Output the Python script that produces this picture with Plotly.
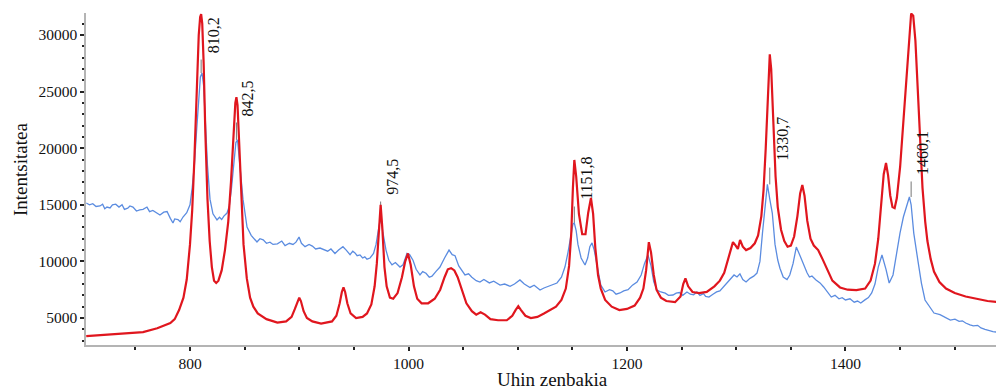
import plotly.graph_objects as go

# Red spectrum (wavenumber, intensity)
red_x = [705, 720, 740, 757, 770, 782, 786, 790, 794, 797, 800, 802, 804, 806, 808, 809.3, 810.2,
         811.2, 812.5, 814, 816, 818, 820, 822, 824, 826, 829, 832, 835, 837.5, 840, 841.5, 842.5,
         843.5, 845, 847, 849, 852, 855, 858, 862, 870, 880, 888, 893, 896, 898.5, 900, 901.5, 904,
         907, 912, 920, 930, 934, 937, 939, 940.5, 942, 944, 947, 952, 958, 962, 966, 969, 971, 973,
         974.5, 976, 978, 980, 983, 986, 990, 994, 997, 999.5, 1002, 1005, 1008, 1012, 1018, 1024,
         1029, 1033, 1036, 1039, 1042, 1045, 1049, 1053, 1058, 1062, 1066, 1070, 1075, 1082, 1090,
         1095, 1098, 1100.5, 1103, 1107, 1112, 1118, 1124, 1130, 1135, 1140, 1144, 1147, 1149, 1150.5,
         1151.8, 1153.5, 1156, 1159, 1162, 1164.5, 1167, 1169, 1171, 1173.5, 1176, 1180, 1186, 1193,
         1200, 1207, 1212, 1215, 1217.5, 1220, 1222, 1224.5, 1227, 1231, 1236, 1244, 1249, 1251.5,
         1253.5, 1256, 1260, 1266, 1273, 1280, 1285, 1289, 1292.5, 1295, 1297, 1299.5, 1301.5,
         1303.5, 1306, 1309, 1313, 1317, 1320, 1323, 1325, 1327, 1329, 1330.7, 1332, 1334, 1336,
         1338, 1341, 1344, 1347, 1350, 1353, 1356, 1358.5, 1360.5, 1362.5, 1365, 1368, 1371, 1375,
         1379, 1383, 1388, 1395, 1402, 1410, 1418, 1423, 1427, 1430, 1432.5, 1435, 1437.1, 1439,
         1441, 1443, 1445, 1447, 1450, 1453, 1456, 1458.5, 1460.1, 1462, 1464, 1466, 1468.2, 1470.5,
         1473, 1475, 1478, 1481, 1486, 1492, 1500, 1510, 1520, 1530, 1545]
red_y = [3400, 3500, 3650, 3760, 4100, 4560, 4900, 5700, 6800, 8400, 11500, 14500, 19000, 25000,
         30000, 31600, 31850, 31000, 27500, 21500, 15500, 11800, 9500, 8300, 8100, 8300, 9200, 11000,
         13500, 17000, 21500, 24000, 24500, 23800, 20500, 15500, 11500, 8500, 6800, 6000, 5400,
         4900, 4600, 4700, 5100, 5800, 6500, 6800, 6500, 5600, 5000, 4700, 4500, 4700, 5200, 6300,
         7300, 7700, 7300, 6300, 5400, 5000, 5100, 5400, 6200, 7800, 9800, 13000, 15000, 13000, 9500,
         7800, 6800, 6700, 7200, 8600, 10000, 10700, 9700, 7800, 6700, 6300, 6300, 6700, 7500, 8600,
         9300, 9400, 9200, 8600, 7400, 6300, 5600, 5300, 5500, 5300, 4900, 4800, 4800, 5200, 5700,
         6050, 5700, 5200, 5000, 5100, 5400, 5700, 6000, 6600, 7600, 9600, 12500, 16500, 18960,
         17500, 14200, 12400, 12400, 14300, 15600, 14200, 11200, 8800, 7600, 6600, 6000, 5700, 5800,
         6100, 6800, 7600, 9200, 11700, 10800, 8800, 7500, 6800, 6500, 6400, 6900, 8000, 8500, 7800,
         7300, 7200, 7300, 7800, 8300, 9000, 10200, 11200, 11700, 11400, 11100, 11900, 11300,
         11000, 11180, 11600, 12300, 14000, 16300, 20000, 25500, 28300, 27000, 22500, 17500, 14800,
         12800, 11800, 11300, 11400, 12200, 14000, 16000, 16750, 15800, 13600, 12000, 11400, 11000,
         10200, 9300, 8300, 7700, 7500, 7470, 7600, 8300, 9800, 12000, 15000, 17700, 18690, 17600,
         15800, 14800, 14700, 15600, 18340, 22500, 26800, 30300, 31900, 31700, 29500, 25500, 21000,
         16500, 13500, 11800, 10200, 9100, 8180, 7600, 7200, 6900, 6700, 6500, 6350]

# Blue spectrum (wavenumber, intensity)
blue_x = [705, 708, 711, 714, 717.6, 720, 722, 724, 726.8, 729, 732, 735, 737.8, 740, 743, 745,
          747.8, 751, 754, 757, 760.6, 763, 766, 769, 772.5, 776, 779, 782, 784.4, 786, 789, 791,
          793.6, 797, 800, 802, 804, 806, 808, 809.5, 811, 812.5, 814, 816, 818.3, 821, 824.7, 827,
          829, 831, 833.9, 836, 838, 840.3, 842, 843.5, 845.8, 848.5, 852.2, 856, 861.3, 864, 867,
          870, 873.2, 876, 880, 884, 887, 891, 894.3, 897, 899.8, 902, 905.3, 909, 912, 915, 919, 923,
          926, 929, 932.7, 936, 940, 943, 946.5, 949, 951, 953, 955.6, 958, 960, 962, 964.8, 968,
          970.3, 972.5, 974.5, 976.5, 979.4, 982, 984.9, 988, 992.2, 995, 998.6, 1001, 1004.1, 1007,
          1010.5, 1013, 1016, 1019, 1021.5, 1025, 1028.8, 1033, 1037.1, 1040, 1042.6, 1046, 1051.7,
          1055, 1058, 1062, 1065.4, 1069, 1074, 1078, 1083.8, 1088, 1093, 1097, 1102, 1106, 1111.2,
          1115, 1120.4, 1124, 1128, 1132, 1135.9, 1140, 1143.2, 1146, 1148.5, 1150.5, 1151.8, 1153.5,
          1155.1, 1158, 1161.6, 1164, 1166, 1168, 1170, 1173.5, 1176, 1179.9, 1184, 1187, 1190,
          1193.6, 1197, 1201, 1205, 1209.2, 1213, 1216, 1219.2, 1222, 1224.5, 1227.5, 1231, 1235,
          1238, 1242.1, 1245, 1248, 1251, 1254.9, 1258, 1261, 1264, 1266.8, 1270, 1272, 1275,
          1278.7, 1282, 1285, 1288, 1291.5, 1295, 1298, 1300.7, 1303.4, 1306, 1309, 1312.6, 1316,
          1319, 1321.7, 1324, 1326.3, 1328.5, 1330.7, 1333, 1335.5, 1338, 1340, 1343, 1346.5, 1349,
          1352, 1355, 1358.4, 1361, 1364.8, 1367, 1369.3, 1373, 1376.7, 1380, 1383.1, 1387, 1390.4,
          1394, 1397, 1400, 1404.1, 1408, 1411, 1414, 1417.8, 1421, 1424, 1427, 1430, 1433.4, 1437.1,
          1440, 1443.5, 1446.5, 1449.9, 1453, 1456.3, 1458.5, 1460.1, 1462.5, 1466.4, 1469.5, 1472.8,
          1477.3, 1481, 1486.5, 1490, 1493, 1496, 1500.2, 1504, 1507, 1510, 1514, 1517, 1521, 1524,
          1527.7, 1531, 1535, 1539, 1542, 1545]
blue_y = [15160, 15000, 15100, 14850, 14900, 15050, 14650, 14800, 14720, 15000, 15050, 14800, 15000,
          14600, 14700, 14900, 14800, 14450, 14550, 14600, 14800, 14400, 14500, 14300, 14100, 14350,
          14400, 13800, 13390, 13750, 13700, 13500, 13920, 14300, 15000, 16500, 18500, 21500, 24500,
          26300, 26640, 25500, 22500, 18500, 15500, 14200, 13660, 13900, 13700, 14000, 14270, 14900,
          16500, 18800, 20500, 20730, 18500, 15500, 13040, 12300, 11710, 12000, 11900, 11600, 11700,
          11500, 11550, 11800, 11400, 11600, 11500, 11700, 12150, 11600, 11300, 11500, 11350, 11100,
          11180, 11000, 10900, 11100, 10700, 11000, 11300, 11000, 10600, 10900, 10750, 10500, 10570,
          10300, 10400, 10200, 10300, 10700, 11500, 12800, 13900, 12600, 11000, 10100, 9700, 9900,
          9500, 9700, 10700, 10600, 10100, 9300, 8800, 9100, 8950, 8600, 8700, 9100, 9500, 10300,
          11000, 10600, 10500, 9600, 8800, 8900, 8600, 8300, 8180, 8400, 8100, 8250, 7910, 8000,
          7800, 8000, 8360, 8000, 7700, 7900, 7470, 7650, 7800, 7900, 8090, 8600, 9500, 10800, 12400,
          13300, 13390, 12700, 11500, 10300, 9680, 10300, 11300, 11630, 11000, 8970, 7900, 7300,
          7500, 7400, 7100, 7210, 7400, 7500, 7900, 8180, 8800, 9800, 10570, 9600, 8200, 7470, 7300,
          7200, 7000, 7030, 7200, 7250, 7000, 7300, 7100, 7050, 7300, 7000, 7150, 6900, 6850, 7100,
          7300, 7400, 7740, 8100, 8500, 8800, 8620, 8900, 8400, 8180, 8500, 8700, 8970, 10000, 12500,
          15000, 16800, 15500, 14270, 11500, 10120, 9400, 8620, 8400, 8800, 9800, 11270, 10500, 9860,
          9000, 8620, 8700, 8360, 8100, 7740, 7300, 6850, 7000, 6700, 6800, 6590, 6700, 6400, 6500,
          6330, 6600, 6800, 7210, 8000, 9500, 10570, 9300, 8090, 8800, 10740, 12500, 13920, 15000,
          15690, 15000, 12500, 10000, 8090, 6590, 6000, 5440, 5300, 5100, 5000, 4820, 4900, 4700,
          4750, 4560, 4400, 4300, 4350, 4120, 4000, 3900, 3800, 3750, 3700]

# Peak labels: peak position, label text, label base (intensity), blue peak intensity
peak_x = [810.2, 842.5, 974.5, 1151.8, 1330.7, 1460.1]
peak_text = ["810,2", "842,5", "974,5", "1151,8", "1330,7", "1460,1"]
label_base = [28230, 22670, 15690, 15250, 18690, 17460]
stem_low = [26640, 20730, 13900, 13390, 16800, 15690]

FONT = "Liberation Serif"

fig = go.Figure()
fig.add_trace(go.Scatter(x=blue_x, y=blue_y, mode="lines",
                         line=dict(color="#5b8ce0", width=1.3), showlegend=False))
fig.add_trace(go.Scatter(x=red_x, y=red_y, mode="lines",
                         line=dict(color="#e0161e", width=2.2), showlegend=False))

for px, txt, lb, sl in zip(peak_x, peak_text, label_base, stem_low):
    fig.add_shape(type="line", x0=px, x1=px, y0=sl, y1=lb - 400,
                  line=dict(color="#777777", width=1), layer="below")
    fig.add_annotation(x=px, y=lb, text=txt, textangle=-90, showarrow=False,
                       xanchor="center", yanchor="bottom", xshift=12,
                       font=dict(family=FONT, size=16, color="#111111"))

axis_common = dict(
    showline=True, linecolor="#b4b4b4", linewidth=1.5, mirror=False,
    ticks="outside", tickcolor="#222222", ticklen=4, tickwidth=2,
    showgrid=False, zeroline=False, automargin=False, tickformat="d",
    tickfont=dict(family=FONT, size=15.5, color="#111111"),
)

fig.update_xaxes(range=[704.8, 1545.1], tick0=0, dtick=200,
                 minor=dict(dtick=50, ticks="outside", ticklen=3, tickwidth=2, tickcolor="#222222"),
                 **axis_common)
fig.update_yaxes(range=[2615, 31943], tick0=0, dtick=5000,
                 minor=dict(dtick=1000, ticks="outside", ticklen=2, tickwidth=2, tickcolor="#222222"),
                 **axis_common)

# axis titles
fig.add_annotation(xref="paper", yref="paper", x=-0.0719, y=0.53, text="Intentsitatea",
                   textangle=-90, showarrow=False, xanchor="center", yanchor="middle",
                   font=dict(family=FONT, size=19, color="#111111"))
fig.add_annotation(xref="paper", yref="paper", x=0.5087, y=-0.1054, text="Uhin zenbakia",
                   showarrow=False, xanchor="center", yanchor="middle",
                   font=dict(family=FONT, size=19, color="#111111"))

# page body has an 8px default margin, so the figure is 8px smaller on each offset side
fig.update_layout(width=996, height=384, margin=dict(l=78, r=0, t=5, b=47),
                  paper_bgcolor="white", plot_bgcolor="white")

fig.write_html("out.html")
